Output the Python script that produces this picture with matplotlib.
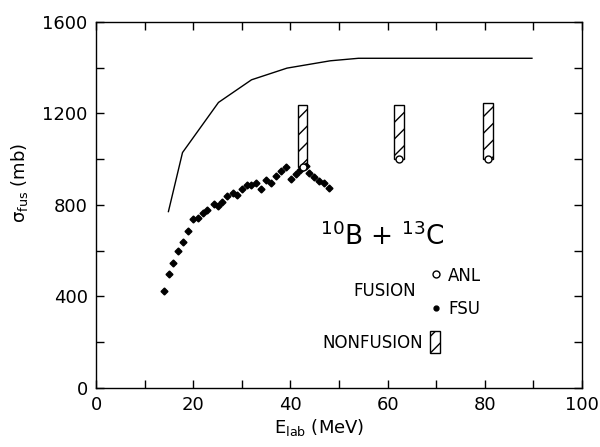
import numpy as np
import matplotlib.pyplot as plt
from matplotlib.ticker import MultipleLocator
from matplotlib.patches import Rectangle

# calculated fusion cross section (solid line)
calc_e = [14.9, 17.8, 25.2, 32.0, 39.3, 48.2, 54.0, 89.7]
calc_sig = [771, 1029, 1248, 1347, 1398, 1430, 1441, 1441]

# FSU fusion data (filled points)
fsu_e = [14.0, 15.0, 15.9, 16.9, 17.8, 18.9, 19.9, 20.9, 22.0, 22.9,
         24.2, 25.0, 25.9, 27.0, 28.1, 29.0, 30.1, 31.0, 31.9, 32.9,
         33.9, 34.9, 36.0, 37.1, 38.0, 39.1, 40.1, 41.2, 42.0, 43.2,
         43.9, 44.9, 45.9, 46.9, 48.0]
fsu_sig = [424, 497, 548, 599, 640, 688, 737, 741, 767, 778,
           805, 796, 815, 837, 851, 844, 868, 888, 886, 895,
           868, 909, 895, 927, 949, 968, 912, 936, 953, 972,
           939, 924, 906, 895, 873]

# ANL fusion data (open circles) and nonfusion tops (hatched bars)
anl_e = [42.5, 62.4, 80.7]
anl_sig = [965, 1000, 1000]
nonfus_top = [1237, 1237, 1245]

plt.rcParams['font.family'] = 'DejaVu Sans'
fig = plt.figure(figsize=(6, 4.47), dpi=100)
ax = fig.add_axes([0.16, 0.132, 0.81, 0.819])

ax.plot(calc_e, calc_sig, color='black', lw=1.0)

for e, lo, hi in zip(anl_e, anl_sig, nonfus_top):
    ax.add_patch(Rectangle((e - 1.0, lo), 2.0, hi - lo, facecolor='white',
                           edgecolor='black', hatch='//', lw=1.0, zorder=2))

ax.plot(fsu_e, fsu_sig, 'D', color='black', ms=3.5, zorder=3)
ax.plot(anl_e, anl_sig, 'o', mfc='white', mec='black', mew=1.0, ms=5, zorder=4)

ax.set_xlim(0, 100)
ax.set_ylim(0, 1600)
ax.xaxis.set_major_locator(MultipleLocator(20))
ax.xaxis.set_minor_locator(MultipleLocator(10))
ax.yaxis.set_major_locator(MultipleLocator(400))
ax.yaxis.set_minor_locator(MultipleLocator(200))
ax.tick_params(which='both', direction='in', top=True, right=True,
               length=6, width=1.0)
ax.tick_params(axis='both', labelsize=13, pad=6)
for s in ax.spines.values():
    s.set_linewidth(1.0)

ax.set_xlabel(r'E$_{\mathregular{lab}}$ (MeV)', fontsize=13)
ax.xaxis.set_label_coords(0.46, -0.08)
ax.set_ylabel(r'$\mathregular{\sigma}_{\mathregular{fus}}$ (mb)', fontsize=13)
ax.yaxis.set_label_coords(-0.135, 0.56)

ax.text(59, 660, r'$^{\mathregular{10}}$B + $^{\mathregular{13}}$C', fontsize=19,
        ha='center', va='center')
ax.text(53, 422, 'FUSION', fontsize=12, ha='left', va='center')
ax.plot([69.9], [497], 'o', mfc='white', mec='black', mew=1.0, ms=5)
ax.text(72.5, 490, 'ANL', fontsize=12, ha='left', va='center')
ax.plot([69.9], [348], 'o', color='black', ms=3.5)
ax.text(72.5, 344, 'FSU', fontsize=12, ha='left', va='center')
ax.text(46.5, 195, 'NONFUSION', fontsize=12, ha='left', va='center')
ax.add_patch(Rectangle((68.8, 151), 2.0, 100, facecolor='white',
                       edgecolor='black', hatch='//', lw=1.0))

fig.savefig('out.png', dpi=100)
